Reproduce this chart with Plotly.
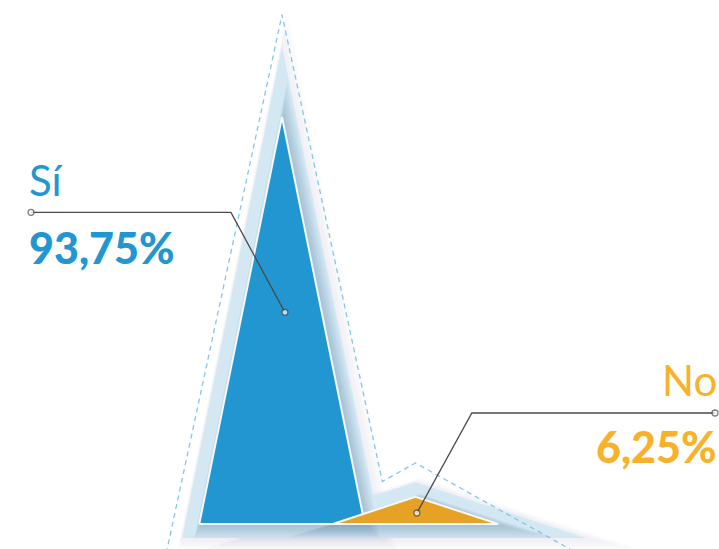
import plotly.graph_objects as go
import numpy as np

# ---------------- data ----------------
categories = ["Sí", "No"]
values = [93.75, 6.25]
value_labels = ["93,75%", "6,25%"]
fill_colors = ["#2196d1", "#e5a224"]
label_colors = ["#2196d1", "#f8b12b"]

# ---------------- layout constants (pixel space) ----------------
W, H = 719, 549
X0_PX = 282.0          # pixel x of first category
X_STEP = 133.5         # pixels per category
Y0_PX = 524.0          # pixel y of value 0
Y_SCALE = 407.0 / 93.75  # pixels per value unit
HALF = 0.62            # half base width of a peak (category units)

x_range = [-X0_PX / X_STEP, (W - X0_PX) / X_STEP]
y_range = [-(H - Y0_PX) / Y_SCALE, Y0_PX / Y_SCALE]


def to_px(x, y):
    return np.array([X0_PX + x * X_STEP, Y0_PX - y * Y_SCALE])


def to_data(p):
    return (p[0] - X0_PX) / X_STEP, (Y0_PX - p[1]) / Y_SCALE


def triangle(i, v):
    return [(i - HALF, 0.0), (i, v), (i + HALF, 0.0)]


def offset_poly(pts, d, shift=(0, 0)):
    """Offset a convex polygon (data coords) outward by d pixels."""
    P = [to_px(*p) for p in pts]
    c = np.mean(P, axis=0)
    n = len(P)
    lines = []
    for k in range(n):
        a, b = P[k], P[(k + 1) % n]
        e = b - a
        nv = np.array([e[1], -e[0]]) / np.hypot(*e)
        if np.dot(nv, (a + b) / 2 - c) < 0:
            nv = -nv
        lines.append((a + d * nv, e))
    out = []
    for k in range(n):
        (p1, d1), (p2, d2) = lines[k - 1], lines[k]
        A = np.array([d1, -d2]).T
        t = np.linalg.solve(A, p2 - p1)
        q = p1 + t[0] * d1 + np.array(shift)
        out.append(to_data(q))
    return out


def poly_trace(pts, color, line=None):
    xs = [p[0] for p in pts] + [pts[0][0]]
    ys = [p[1] for p in pts] + [pts[0][1]]
    return go.Scatter(x=xs, y=ys, mode="lines", fill="toself", fillcolor=color,
                      line=line or dict(width=0, color=color),
                      hoverinfo="skip", showlegend=False)


fig = go.Figure()

# soft outer shadow (gradient)
for s in range(1, 6):
    for i, v in enumerate(values):
        fig.add_trace(poly_trace(offset_poly(triangle(i, v), 14 + 1.6 * s, (1.0 * s, 0.8 * s)),
                                 "rgba(90,110,130,0.018)"))

# glow
for i, v in enumerate(values):
    fig.add_trace(poly_trace(offset_poly(triangle(i, v), 14), "#d3e8f3"))

# inner shadow (gradient, offset down-right)
for s in range(1, 8):
    for i, v in enumerate(values):
        fig.add_trace(poly_trace(offset_poly(triangle(i, v), 1.2 * s, (0.6 * s + 1, 0.7 * s + 1)),
                                 "rgba(95,130,155,0.055)"))

# dashed outline (union of enlarged peaks)
OUT_A, OUT_B, OUT_HALF = 1.18, 29.0 / Y_SCALE, 0.82


def out_tri(i, v):
    return (i - OUT_HALF, 0.0), (i, OUT_A * v + OUT_B), (i + OUT_HALF, 0.0)


def line_at_y(p, q, y):
    t = (y - p[1]) / (q[1] - p[1])
    return (p[0] + t * (q[0] - p[0]), y)


def intersect(p1, p2, p3, p4):
    A = np.array([[p2[0] - p1[0], -(p4[0] - p3[0])], [p2[1] - p1[1], -(p4[1] - p3[1])]])
    t = np.linalg.solve(A, np.array([p3[0] - p1[0], p3[1] - p1[1]]))
    return (p1[0] + t[0] * (p2[0] - p1[0]), p1[1] + t[0] * (p2[1] - p1[1]))


tris = [out_tri(i, v) for i, v in enumerate(values)]
ylow = y_range[0] - 5
ox, oy = [], []
first = tris[0]
pt = line_at_y(first[1], first[0], ylow)
ox.append(pt[0]); oy.append(pt[1])
for k, t in enumerate(tris):
    ox.append(t[1][0]); oy.append(t[1][1])
    if k + 1 < len(tris):
        nt = tris[k + 1]
        ip = intersect(t[1], t[2], nt[0], nt[1])
        ox.append(ip[0]); oy.append(ip[1])
last = tris[-1]
pt = line_at_y(last[1], last[2], ylow)
ox.append(pt[0]); oy.append(pt[1])
fig.add_trace(go.Scatter(x=ox, y=oy, mode="lines",
                         line=dict(color="#86c5e8", width=1.3, dash="5px,4px"),
                         hoverinfo="skip", showlegend=False))

# peaks
for i, v in enumerate(values):
    fig.add_trace(poly_trace(triangle(i, v), fill_colors[i],
                             line=dict(color="#f4f8fa", width=2)))

# leader lines
anchor_frac = [0.52, 0.405]
anchor_dx = [0.022, 0.01]
label_px_x = [31, 715]
elbow_dx_px = [-54, 55]
elbow_dy_px = -100
for i, v in enumerate(values):
    ax, ay = i + anchor_dx[i], anchor_frac[i] * v
    apx = to_px(ax, ay)
    elbow = to_data(apx + np.array([elbow_dx_px[i], elbow_dy_px]))
    endp = to_data(np.array([label_px_x[i], apx[1] + elbow_dy_px]))
    fig.add_trace(go.Scatter(x=[ax, elbow[0], endp[0]], y=[ay, elbow[1], endp[1]],
                             mode="lines+markers",
                             line=dict(color="#4a4a4a", width=1.3),
                             marker=dict(size=[6, 0, 6], color="white",
                                         line=dict(color="#4a4a4a", width=1.3)),
                             hoverinfo="skip", showlegend=False, cliponaxis=False))

# labels
name_y_px = [180, 380]
val_y_px = [247, 446]
text_x_px = [28, 718]
anchors = ["left", "right"]
for i in range(len(values)):
    fig.add_annotation(xref="paper", yref="paper", x=text_x_px[i] / W, y=1 - name_y_px[i] / H,
                       xanchor=anchors[i], yanchor="middle", showarrow=False,
                       text=categories[i], borderpad=0,
                       font=dict(family="Lato", size=42, weight=400, color=label_colors[i]))
    fig.add_annotation(xref="paper", yref="paper", x=text_x_px[i] / W, y=1 - val_y_px[i] / H,
                       xanchor=anchors[i], yanchor="middle", showarrow=False,
                       text=value_labels[i], borderpad=0,
                       font=dict(family="Lato", size=43, weight=900, color=label_colors[i]))

fig.update_layout(
    width=W, height=H, margin=dict(l=0, r=0, t=0, b=0),
    paper_bgcolor="white", plot_bgcolor="white",
    xaxis=dict(range=x_range, visible=False, fixedrange=True),
    yaxis=dict(range=y_range, visible=False, fixedrange=True),
    showlegend=False,
)

fig.write_html("out.html", config={"displayModeBar": False},
               post_script="document.body.style.margin='0';document.body.style.overflow='hidden';")
